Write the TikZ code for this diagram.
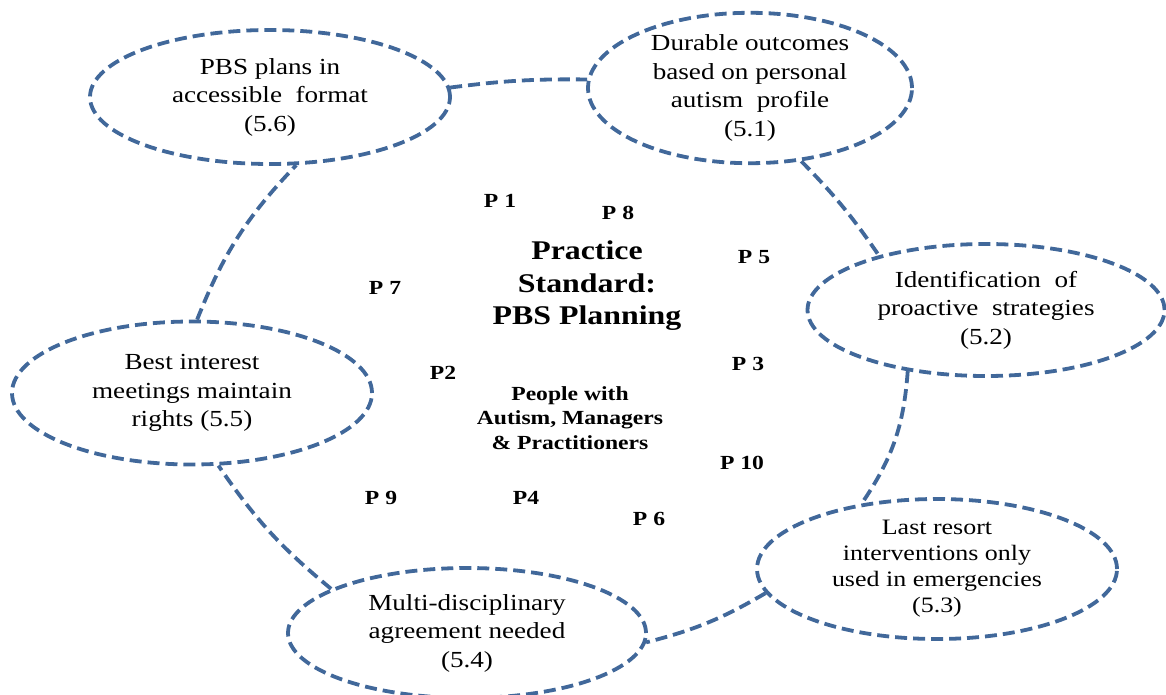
\documentclass[tikz,border=0pt]{standalone}
\usepackage{fontspec}
\setmainfont{Liberation Serif}[FakeStretch=1.18]
\usetikzlibrary{shapes.geometric, positioning}

\definecolor{dashblue}{HTML}{41689A}

\tikzset{
    goal/.style={draw=dashblue, ellipse, line width=3.8pt, dash pattern=on 12pt off 6pt,
        inner sep=0pt, align=center, font=\fontsize{23}{28.5}\selectfont},
    link/.style={draw=dashblue, line width=3.8pt, dash pattern=on 12pt off 6pt},
    plabel/.style={font=\bfseries\fontsize{20}{24}\selectfont},
}

\begin{document}
\begin{tikzpicture}[x=1pt, y=1pt]

    \useasboundingbox (0,0) rectangle (1166,-695);

    % outcomes round the standard
    \node[goal, minimum width=360, minimum height=134] (plans) at (270,-97)
        {PBS plans in\\accessible~ format\\(5.6)};
    \node[goal, minimum width=324, minimum height=146] (durable) at (750,-88)
        {Durable outcomes\\based on personal\\autism~ profile\\(5.1)};
    \node[goal, minimum width=357, minimum height=132] (proactive) at (986,-310)
        {Identification~ of\\proactive~ strategies\\(5.2)};
    \node[goal, minimum width=360, minimum height=140, font=\fontsize{22}{26}\selectfont] (lastresort) at (937,-569)
        {Last resort\\interventions only\\used in emergencies\\(5.3)};
    \node[goal, minimum width=358, minimum height=130] (agreement) at (467,-633)
        {Multi-disciplinary\\agreement needed\\(5.4)};
    \node[goal, minimum width=360, minimum height=143] (interest) at (192,-393)
        {Best interest\\meetings maintain\\rights (5.5)};

    % centre
    \node[align=center, font=\bfseries\fontsize{27}{32.5}\selectfont] (standard) at (587,-286)
        {Practice\\Standard:\\PBS Planning};
    \node[align=center, font=\bfseries\fontsize{20}{24.7}\selectfont] (people) at (570,-418)
        {People with\\Autism, Managers\\\& Practitioners};

    \foreach \nm/\txt/\x/\y in {p1/P 1/500/201, p8/P 8/618/213, p5/P 5/754/257,
        p7/P 7/385/288, p2/P2/443/373, p3/P 3/748/364, p10/P 10/742/463,
        p9/P 9/381/498, p4/P4/526/498, p6/P 6/649/519}{
        \node[plabel] (\nm) at (\x,-\y) {\txt};
    }

    \draw[link] (plans.3) to[bend left=4] (durable.177);
    \draw[link] (durable.-55) to[bend left=5] (proactive.153);
    \draw[link] (proactive.218) to[bend left=15] (lastresort.139);
    \draw[link] (lastresort.188) to[bend left=8] (agreement.-3);
    \draw[link] (agreement.162) to[bend left=8] (interest.-70);
    \draw[link] (interest.86) to[bend left=11] (plans.-69);

\end{tikzpicture}
\end{document}
